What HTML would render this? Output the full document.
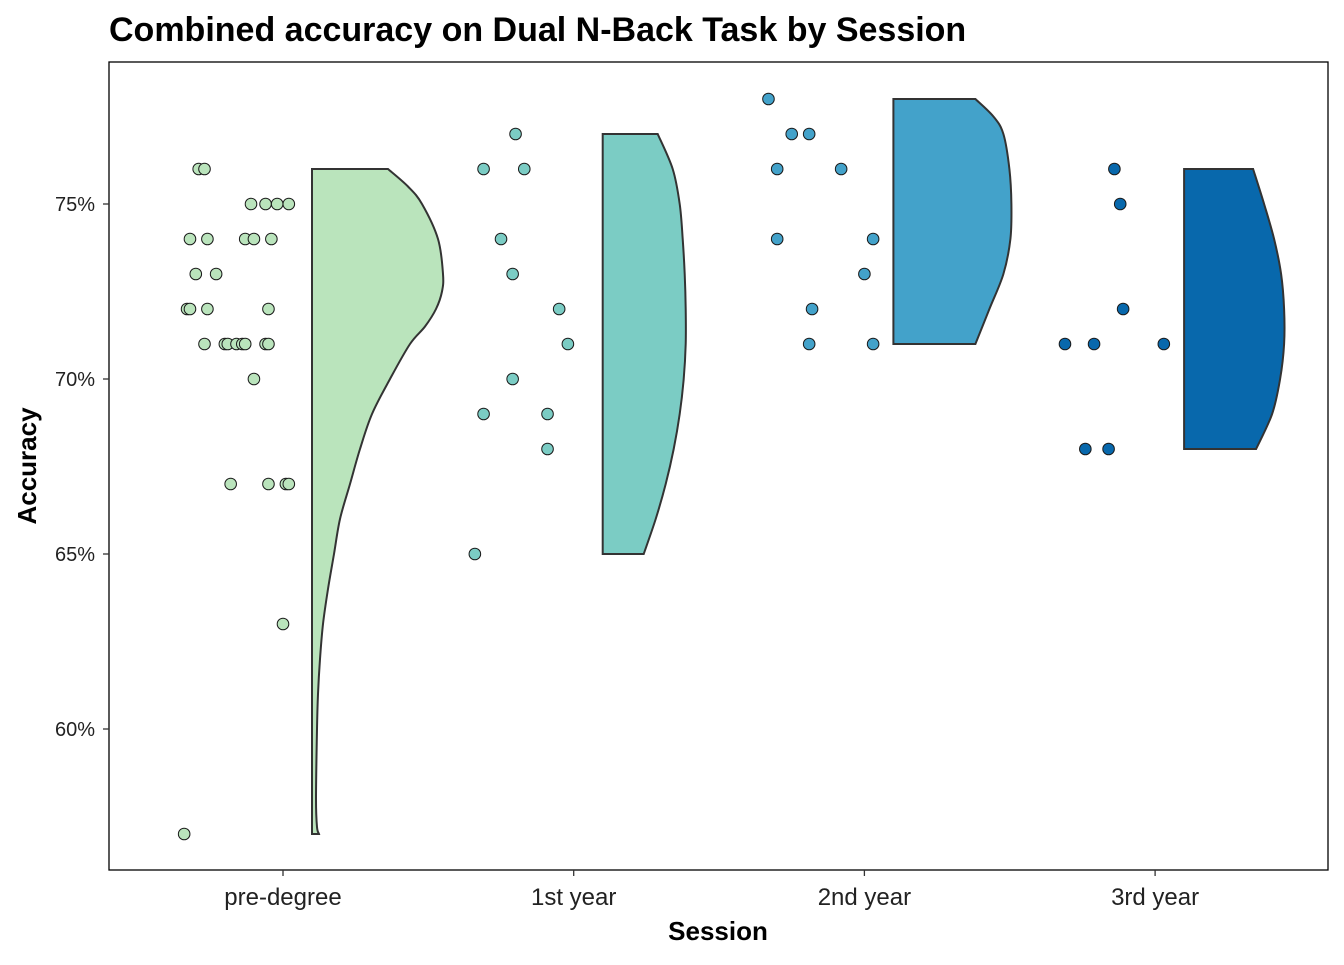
<!DOCTYPE html>
<html><head><meta charset="utf-8"><style>
body{margin:0;background:#fff}
svg text{font-family:"Liberation Sans",sans-serif}
</style></head><body>
<svg id="chart" width="1344" height="960" xmlns="http://www.w3.org/2000/svg">
<rect width="1344" height="960" fill="#fff"/>
<text x="109" y="41" font-size="34" font-weight="bold">Combined accuracy on Dual N-Back Task by Session</text>
<g id="marks"></g>
<rect x="109" y="62" width="1219" height="808" fill="none" stroke="#000" stroke-width="1.3"/>
<g id="axes"></g>
<text x="718" y="940" font-size="26" font-weight="bold" text-anchor="middle">Session</text>
<text transform="translate(36,466) rotate(-90)" font-size="26" font-weight="bold" text-anchor="middle">Accuracy</text>
</svg>
<script>
const categories=["pre-degree","1st year","2nd year","3rd year"];
const colors=["#BAE4BC","#7BCCC4","#43A2CA","#0868AC"];
const yTicks=[60,65,70,75];
const yTickLabels=["60%","65%","70%","75%"];
const pointsPre=[[-0.29,76],[-0.27,76],[-0.32,74],[-0.26,74],[-0.30,73],[-0.23,73],[-0.33,72],[-0.32,72],[-0.26,72],[-0.27,71],[-0.20,71],[-0.19,71],[-0.16,71],[-0.14,71],[-0.13,71],[-0.10,70],[-0.11,75],[-0.06,75],[-0.02,75],[0.02,75],[-0.13,74],[-0.10,74],[-0.04,74],[-0.05,72],[-0.06,71],[-0.05,71],[-0.18,67],[-0.05,67],[0.01,67],[0.02,67],[0.00,63],[-0.34,57]];
const points1st=[[-0.20,77],[-0.31,76],[-0.17,76],[-0.25,74],[-0.21,73],[-0.05,72],[-0.02,71],[-0.21,70],[-0.31,69],[-0.09,69],[-0.09,68],[-0.34,65]];
const points2nd=[[-0.33,78],[-0.25,77],[-0.19,77],[-0.30,76],[-0.08,76],[-0.30,74],[0.03,74],[0.00,73],[-0.18,72],[-0.19,71],[0.03,71]];
const points3rd=[[-0.14,76],[-0.12,75],[-0.11,72],[-0.31,71],[-0.21,71],[0.03,71],[-0.24,68],[-0.16,68]];
const densPre=[[76,76],[75.5,96],[75,110],[74,126],[73,131],[72.5,130],[72,124],[71.5,113],[71,98],[70,78],[69,60],[68,48],[67,38],[66,28],[65,22],[64,16],[63,11],[62,8],[61,6],[60,5],[58,4],[57.2,5],[57,7]];
const dens1st=[[77,55],[76,70],[75,77],[74,80],[73,82],[72,83],[71,83],[70,81],[69,77],[68,71],[67,63],[66,53],[65,41]];
const dens2nd=[[78,82],[77.5,100],[77,110],[76,116],[75,118],[74,117],[73,110],[72,96],[71,82]];
const dens3rd=[[76,69],[75,80],[74,90],[73,97],[72,100],[71,100],[70,96],[69,88],[68,72]];
const allPoints=[pointsPre,points1st,points2nd,points3rd];
const allDens=[densPre,dens1st,dens2nd,dens3rd];
const NS="http://www.w3.org/2000/svg";
const xPos=i=>283+i*290.7, band=290.7;
const yPos=v=>204+(75-v)*35;
const densScale=1;
const marks=document.getElementById('marks'), axes=document.getElementById('axes');
function mk(t,a,p){const e=document.createElementNS(NS,t);for(const k in a)e.setAttribute(k,a[k]);p.appendChild(e);return e;}
function smooth(pts){let d="";for(let i=0;i<pts.length-1;i++){const p0=pts[Math.max(0,i-1)],p1=pts[i],p2=pts[i+1],p3=pts[Math.min(pts.length-1,i+2)];
const c1=[p1[0]+(p2[0]-p0[0])/6,p1[1]+(p2[1]-p0[1])/6],c2=[p2[0]-(p3[0]-p1[0])/6,p2[1]-(p3[1]-p1[1])/6];
d+=` C${c1[0]},${c1[1]} ${c2[0]},${c2[1]} ${p2[0]},${p2[1]}`;}return d;}
allDens.forEach((dens,i)=>{
 const x0=xPos(i)+29;
 const pts=dens.map(d=>[x0+d[1]*densScale,yPos(d[0])]);
 let d=`M${x0},${yPos(dens[0][0])} L${pts[0][0]},${pts[0][1]}`+smooth(pts)+` L${x0},${pts[pts.length-1][1]} Z`;
 const p=mk('path',{d,fill:colors[i],stroke:'#333','stroke-width':2},marks);
 
 
});
allPoints.forEach((pts,i)=>{pts.forEach(pt=>{
 const c=mk('circle',{cx:xPos(i)+pt[0]*band,cy:yPos(pt[1]),r:5.8,fill:colors[i],stroke:'#1a1a1a','stroke-width':1},marks);
 
 
});});
yTicks.forEach((v,i)=>{
 const l=mk('line',{x1:103,x2:109,y1:yPos(v),y2:yPos(v),stroke:'#333','stroke-width':1.3},axes);
 
 
 const t=mk('text',{x:95,y:yPos(v)+7,'font-size':20,'text-anchor':'end',fill:'#222'},axes);
 t.textContent=yTickLabels[i];
 
 
});
categories.forEach((c,i)=>{
 const l=mk('line',{x1:xPos(i),x2:xPos(i),y1:870,y2:876,stroke:'#333','stroke-width':1.3},axes);
 
 
 const t=mk('text',{x:xPos(i),y:905,'font-size':24,'text-anchor':'middle',fill:'#222'},axes);
 t.textContent=c;
 
 
});
</script>
</body></html>
